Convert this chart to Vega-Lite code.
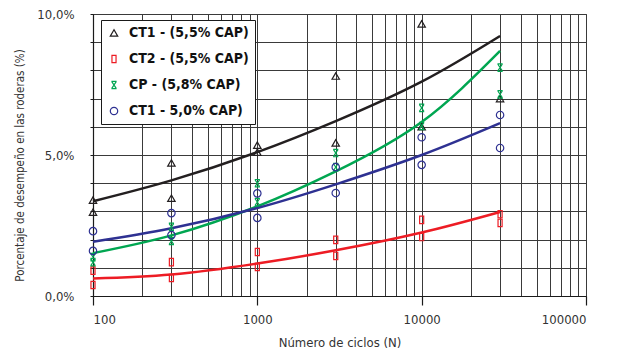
{
  "$schema": "https://vega.github.io/schema/vega-lite/v6.json",
  "width": 493,
  "height": 282,
  "autosize": {"type": "none"},
  "padding": {"left": 93, "top": 14, "right": 34, "bottom": 64},
  "background": "white",
  "config": {
    "font": "'DejaVu Sans Condensed', 'Liberation Sans', sans-serif",
    "view": {"stroke": "#3a3a3a", "strokeWidth": 1},
    "axis": {
      "gridColor": "#3a3a3a", "gridOpacity": 1, "gridWidth": 1,
      "domainColor": "#1a1a1a", "domainWidth": 1.2,
      "tickColor": "#1a1a1a", "labelColor": "#333333", "titleColor": "#333333",
      "labelFont": "'DejaVu Sans Condensed', 'Liberation Sans', sans-serif",
      "titleFont": "'DejaVu Sans Condensed', 'Liberation Sans', sans-serif",
      "titleFontWeight": "normal"
    },
    "legend": {
      "labelFont": "'DejaVu Sans Condensed', 'Liberation Sans', sans-serif"
    }
  },
  "data": {
    "values": [
      {"N": 100, "v": 3.4, "s": "CT1 - (5,5% CAP)", "t": "pt"},
      {"N": 100, "v": 2.97, "s": "CT1 - (5,5% CAP)", "t": "pt"},
      {"N": 300, "v": 4.72, "s": "CT1 - (5,5% CAP)", "t": "pt"},
      {"N": 300, "v": 3.47, "s": "CT1 - (5,5% CAP)", "t": "pt"},
      {"N": 1000, "v": 5.35, "s": "CT1 - (5,5% CAP)", "t": "pt"},
      {"N": 1000, "v": 5.1, "s": "CT1 - (5,5% CAP)", "t": "pt"},
      {"N": 3000, "v": 7.8, "s": "CT1 - (5,5% CAP)", "t": "pt"},
      {"N": 3000, "v": 5.43, "s": "CT1 - (5,5% CAP)", "t": "pt"},
      {"N": 10000, "v": 9.65, "s": "CT1 - (5,5% CAP)", "t": "pt"},
      {"N": 10000, "v": 6.0, "s": "CT1 - (5,5% CAP)", "t": "pt"},
      {"N": 30000, "v": 7.0, "s": "CT1 - (5,5% CAP)", "t": "pt"},

      {"N": 100, "v": 0.9, "s": "CT2 - (5,5% CAP)", "t": "pt"},
      {"N": 100, "v": 0.39, "s": "CT2 - (5,5% CAP)", "t": "pt"},
      {"N": 300, "v": 1.2, "s": "CT2 - (5,5% CAP)", "t": "pt"},
      {"N": 300, "v": 0.64, "s": "CT2 - (5,5% CAP)", "t": "pt"},
      {"N": 1000, "v": 1.56, "s": "CT2 - (5,5% CAP)", "t": "pt"},
      {"N": 1000, "v": 1.03, "s": "CT2 - (5,5% CAP)", "t": "pt"},
      {"N": 3000, "v": 1.99, "s": "CT2 - (5,5% CAP)", "t": "pt"},
      {"N": 3000, "v": 1.42, "s": "CT2 - (5,5% CAP)", "t": "pt"},
      {"N": 10000, "v": 2.7, "s": "CT2 - (5,5% CAP)", "t": "pt"},
      {"N": 10000, "v": 2.09, "s": "CT2 - (5,5% CAP)", "t": "pt"},
      {"N": 30000, "v": 2.9, "s": "CT2 - (5,5% CAP)", "t": "pt"},
      {"N": 30000, "v": 2.59, "s": "CT2 - (5,5% CAP)", "t": "pt"},

      {"N": 100, "v": 1.38, "s": "CP - (5,8% CAP)", "t": "pt"},
      {"N": 100, "v": 1.2, "s": "CP - (5,8% CAP)", "t": "pt"},
      {"N": 300, "v": 2.45, "s": "CP - (5,8% CAP)", "t": "pt"},
      {"N": 300, "v": 1.95, "s": "CP - (5,8% CAP)", "t": "pt"},
      {"N": 1000, "v": 4.0, "s": "CP - (5,8% CAP)", "t": "pt"},
      {"N": 1000, "v": 3.33, "s": "CP - (5,8% CAP)", "t": "pt"},
      {"N": 3000, "v": 5.07, "s": "CP - (5,8% CAP)", "t": "pt"},
      {"N": 3000, "v": 4.57, "s": "CP - (5,8% CAP)", "t": "pt"},
      {"N": 10000, "v": 6.67, "s": "CP - (5,8% CAP)", "t": "pt"},
      {"N": 10000, "v": 6.03, "s": "CP - (5,8% CAP)", "t": "pt"},
      {"N": 30000, "v": 8.1, "s": "CP - (5,8% CAP)", "t": "pt"},
      {"N": 30000, "v": 7.15, "s": "CP - (5,8% CAP)", "t": "pt"},

      {"N": 100, "v": 2.3, "s": "CT1 - 5,0% CAP)", "t": "pt"},
      {"N": 100, "v": 1.6, "s": "CT1 - 5,0% CAP)", "t": "pt"},
      {"N": 300, "v": 2.94, "s": "CT1 - 5,0% CAP)", "t": "pt"},
      {"N": 300, "v": 2.16, "s": "CT1 - 5,0% CAP)", "t": "pt"},
      {"N": 1000, "v": 3.64, "s": "CT1 - 5,0% CAP)", "t": "pt"},
      {"N": 1000, "v": 2.77, "s": "CT1 - 5,0% CAP)", "t": "pt"},
      {"N": 3000, "v": 4.57, "s": "CT1 - 5,0% CAP)", "t": "pt"},
      {"N": 3000, "v": 3.65, "s": "CT1 - 5,0% CAP)", "t": "pt"},
      {"N": 10000, "v": 5.63, "s": "CT1 - 5,0% CAP)", "t": "pt"},
      {"N": 10000, "v": 4.65, "s": "CT1 - 5,0% CAP)", "t": "pt"},
      {"N": 30000, "v": 6.42, "s": "CT1 - 5,0% CAP)", "t": "pt"},
      {"N": 30000, "v": 5.25, "s": "CT1 - 5,0% CAP)", "t": "pt"},

      {"N": 100, "v": 3.36, "s": "CT1 - (5,5% CAP)", "t": "fit"},
      {"N": 300, "v": 4.1, "s": "CT1 - (5,5% CAP)", "t": "fit"},
      {"N": 1000, "v": 5.1, "s": "CT1 - (5,5% CAP)", "t": "fit"},
      {"N": 3000, "v": 6.2, "s": "CT1 - (5,5% CAP)", "t": "fit"},
      {"N": 10000, "v": 7.6, "s": "CT1 - (5,5% CAP)", "t": "fit"},
      {"N": 30000, "v": 9.22, "s": "CT1 - (5,5% CAP)", "t": "fit"},

      {"N": 100, "v": 0.62, "s": "CT2 - (5,5% CAP)", "t": "fit"},
      {"N": 300, "v": 0.76, "s": "CT2 - (5,5% CAP)", "t": "fit"},
      {"N": 1000, "v": 1.15, "s": "CT2 - (5,5% CAP)", "t": "fit"},
      {"N": 3000, "v": 1.62, "s": "CT2 - (5,5% CAP)", "t": "fit"},
      {"N": 10000, "v": 2.25, "s": "CT2 - (5,5% CAP)", "t": "fit"},
      {"N": 30000, "v": 2.98, "s": "CT2 - (5,5% CAP)", "t": "fit"},

      {"N": 100, "v": 1.52, "s": "CP - (5,8% CAP)", "t": "fit"},
      {"N": 300, "v": 2.15, "s": "CP - (5,8% CAP)", "t": "fit"},
      {"N": 1000, "v": 3.18, "s": "CP - (5,8% CAP)", "t": "fit"},
      {"N": 3000, "v": 4.42, "s": "CP - (5,8% CAP)", "t": "fit"},
      {"N": 10000, "v": 6.17, "s": "CP - (5,8% CAP)", "t": "fit"},
      {"N": 30000, "v": 8.69, "s": "CP - (5,8% CAP)", "t": "fit"},

      {"N": 100, "v": 1.92, "s": "CT1 - 5,0% CAP)", "t": "fit"},
      {"N": 300, "v": 2.4, "s": "CT1 - 5,0% CAP)", "t": "fit"},
      {"N": 1000, "v": 3.12, "s": "CT1 - 5,0% CAP)", "t": "fit"},
      {"N": 3000, "v": 3.96, "s": "CT1 - 5,0% CAP)", "t": "fit"},
      {"N": 10000, "v": 5.0, "s": "CT1 - 5,0% CAP)", "t": "fit"},
      {"N": 30000, "v": 6.13, "s": "CT1 - 5,0% CAP)", "t": "fit"}
    ]
  },
  "encoding": {
    "x": {
      "field": "N", "type": "quantitative",
      "scale": {"type": "log", "domain": [100, 100000], "nice": false},
      "axis": {
        "title": "Número de ciclos (N)",
        "titleFontSize": 13, "titlePadding": 10,
        "values": [100,200,300,400,500,600,700,800,900,1000,2000,3000,4000,5000,6000,7000,8000,9000,10000,20000,30000,40000,50000,60000,70000,80000,90000,100000],
        "format": "d",
        "labelExpr": "indexof([100,1000,10000,100000], datum.value) >= 0 ? datum.label : ''",
        "labelOverlap": false, "labelFontSize": 13, "labelPadding": 8,
        "tickSize": {"condition": {"test": "indexof([100,1000,10000,100000], datum.value) >= 0", "value": 9}, "value": 0},
        "tickWidth": 1.2
      }
    },
    "y": {
      "field": "v", "type": "quantitative",
      "scale": {"domain": [0, 10], "nice": false},
      "axis": {
        "title": "Porcentaje de desempeño en las roderas (%)",
        "titleFontSize": 11.5,
        "values": [0,1,2,3,4,5,6,7,8,9,10],
        "labelExpr": "datum.value % 5 === 0 ? replace(format(datum.value, '.1f'), '.', ',') + '%' : ''",
        "labelFontSize": 13, "labelPadding": 16, "tickSize": 3,
        "titleX": -68, "titleY": 151
      }
    }
  },
  "layer": [
    {
      "transform": [{"filter": "datum.t === 'fit'"}],
      "mark": {"type": "line", "interpolate": "natural", "strokeWidth": 2.5},
      "encoding": {
        "detail": {"field": "s", "type": "nominal"},
        "color": {
          "condition": [
            {"test": "datum.s === 'CT2 - (5,5% CAP)'", "value": "#ed1c24"},
            {"test": "datum.s === 'CP - (5,8% CAP)'", "value": "#00a651"},
            {"test": "datum.s === 'CT1 - 5,0% CAP)'", "value": "#2e3192"}
          ],
          "value": "#231f20"
        }
      }
    },
    {
      "transform": [{"filter": "datum.t === 'pt'"}],
      "mark": {"type": "point", "filled": false, "strokeWidth": 1.2, "size": 55, "opacity": 1},
      "encoding": {
        "color": {
          "field": "s", "type": "nominal",
          "scale": {
            "domain": ["CT1 - (5,5% CAP)", "CT2 - (5,5% CAP)", "CP - (5,8% CAP)", "CT1 - 5,0% CAP)"],
            "range": ["#231f20", "#ed1c24", "#00a651", "#2e3192"]
          },
          "legend": {
            "title": null, "orient": "none", "legendX": 8, "legendY": 6,
            "strokeColor": "#1a1a1a", "fillColor": "white", "padding": 6,
            "labelFontWeight": "bold",
            "labelFontSize": 14, "labelColor": "#111111", "labelLimit": 300,
            "rowPadding": 12, "labelOffset": 8, "symbolStrokeWidth": 1.2,
            "symbolSize": 55
          }
        },
        "shape": {
          "field": "s", "type": "nominal",
          "scale": {
            "domain": ["CT1 - (5,5% CAP)", "CT2 - (5,5% CAP)", "CP - (5,8% CAP)", "CT1 - 5,0% CAP)"],
            "range": ["triangle-up", "M-0.55,-1L0.55,-1L0.55,1L-0.55,1Z", "M-0.7,-1L0.7,-1M-0.7,1L0.7,1M-0.6,-0.9L0.6,0.9M0.6,-0.9L-0.6,0.9", "circle"]
          },
          "legend": {
            "title": null, "orient": "none", "legendX": 8, "legendY": 6,
            "strokeColor": "#1a1a1a", "fillColor": "white", "padding": 6,
            "labelFontWeight": "bold",
            "labelFontSize": 14, "labelColor": "#111111", "labelLimit": 300,
            "rowPadding": 12, "labelOffset": 8, "symbolStrokeWidth": 1.2,
            "symbolSize": 55
          }
        }
      }
    }
  ]
}
